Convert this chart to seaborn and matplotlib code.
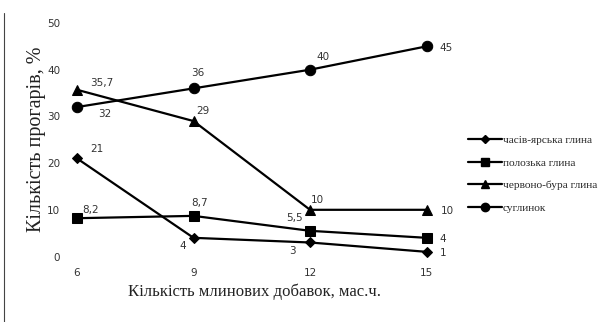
import matplotlib
matplotlib.use("Agg")
import matplotlib.pyplot as plt
from matplotlib.lines import Line2D
import pandas as pd
import seaborn as sns

# data
additives = [6, 9, 12, 15]
series_names = ["часів-ярська глина", "полозька глина", "червоно-бура глина", "суглинок"]
chasiv_yar = [21, 4, 3, 1]
polozka = [8.2, 8.7, 5.5, 4]
chervono_bura = [35.7, 29, 10, 10]
suglinok = [32, 36, 40, 45]
y_ticks = [0, 10, 20, 30, 40, 50]

values = [chasiv_yar, polozka, chervono_bura, suglinok]
rows = []
for name, vals in zip(series_names, values):
    for x, v in zip(additives, vals):
        rows.append({"x": x, "y": v, "series": name})
df = pd.DataFrame(rows)

# label offsets in points (dx, dy) for each point of each series
label_offsets = {
    series_names[0]: [(14, 7), (-8, -6), (-13, -6), (12, -1)],
    series_names[1]: [(10, 6), (4, 9), (-11, 9), (12, -1)],
    series_names[2]: [(18, 5), (7, 7), (5, 7), (15, -1)],
    series_names[3]: [(20, -5), (3, 11), (9, 9), (14, -1)],
}
markers = {series_names[0]: "D", series_names[1]: "s",
           series_names[2]: "^", series_names[3]: "o"}
msizes = {series_names[0]: 5, series_names[1]: 7.5,
          series_names[2]: 7.5, series_names[3]: 7.5}

sns.set_theme(style="white")
plt.rcParams["font.family"] = ["DejaVu Sans"]

fig = plt.figure(figsize=(6.08, 3.22), dpi=100)
ax = fig.add_axes([0.1107, 0.2034, 0.6164, 0.7252])

sns.lineplot(data=df, x="x", y="y", hue="series", style="series",
             palette=["black"] * 4, markers=markers, dashes=False,
             linewidth=1.6, markersize=7.5, legend=False, ax=ax)

# fix marker sizes per series
for line, name in zip(ax.lines, series_names):
    line.set_markersize(msizes[name])
    line.set_markeredgecolor("black")

for name, vals in zip(series_names, values):
    for x, v, off in zip(additives, vals, label_offsets[name]):
        txt = f"{v:g}".replace(".", ",")
        ax.annotate(txt, (x, v), xytext=off, textcoords="offset points",
                    ha="center", va="center", fontsize=7.5, color="#333333")

ax.set_xlim(5.75, 15.4)
ax.set_ylim(0, 50)
ax.set_xticks(additives)
ax.set_yticks(y_ticks)
ax.tick_params(axis="both", length=0, labelsize=7.5, labelcolor="#333333")
ax.tick_params(axis="x", pad=8)
ax.tick_params(axis="y", pad=5)
for s in ax.spines.values():
    s.set_visible(False)

serif = ["Liberation Serif", "DejaVu Serif"]
ax.set_xlabel("Кількість млинових добавок, мас.ч.", family=serif, fontsize=12,
              color="#222222", labelpad=4)
ax.set_ylabel("Кількість прогарів, %", family=serif, fontsize=14.5,
              color="#222222", labelpad=1)

handles = [Line2D([], [], color="black", lw=1.6, marker=markers[n],
                  markersize=msizes[n] * 0.8) for n in series_names]
fig.legend(handles, series_names, loc="upper left",
           bbox_to_anchor=(0.762, 0.595), frameon=False,
           prop={"family": serif, "size": 8.2}, handlelength=3.0,
           handletextpad=0.05, labelspacing=1.12, borderaxespad=0)

# thin frame line on the left edge
fig.add_artist(Line2D([0.007, 0.007], [0.0, 0.96], color="#444444", lw=0.8,
                      transform=fig.transFigure))

fig.savefig("out.png", dpi=100, facecolor="white")
